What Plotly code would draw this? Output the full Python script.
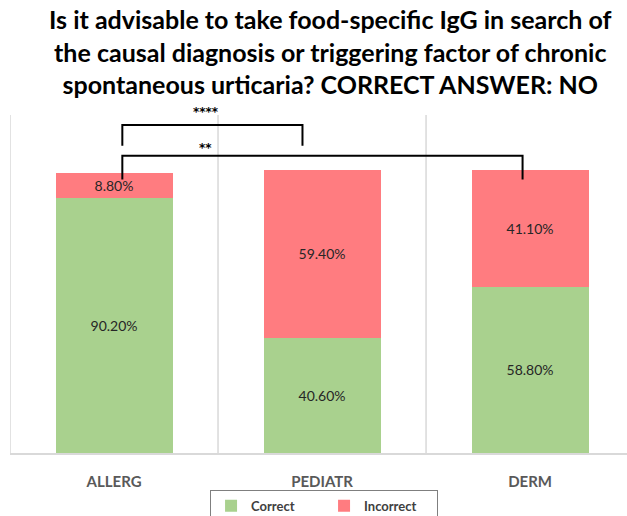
import plotly.graph_objects as go

categories = ["ALLERG", "PEDIATR", "DERM"]
correct = [90.2, 40.6, 58.8]
incorrect = [8.8, 59.4, 41.1]
comparisons = [("ALLERG", "PEDIATR", "****"), ("ALLERG", "DERM", "**")]

title_text = ("Is it advisable to take food-specific IgG in search of<br>"
              "the causal diagnosis or triggering factor of chronic<br>"
              "spontaneous urticaria? CORRECT ANSWER: NO")

xs = list(range(len(categories)))
GREEN = "#a9d18e"
RED = "#ff7c80"
LABEL_FONT = dict(family="Lato, Open Sans, sans-serif", size=14, color="#262626")
YMAX = 119.4

fig = go.Figure()
fig.add_trace(go.Bar(x=xs, y=correct, name="Correct", marker=dict(color=GREEN, line=dict(width=0)),
                     width=0.5625, texttemplate="%{y:.2f}%", textposition="inside",
                     insidetextanchor="middle", textfont=LABEL_FONT, hoverinfo="skip"))
fig.add_trace(go.Bar(x=xs, y=incorrect, name="Incorrect", marker=dict(color=RED, line=dict(width=0)),
                     width=0.5625, texttemplate="%{y:.2f}%", textposition="inside",
                     insidetextanchor="middle", textfont=LABEL_FONT, hoverinfo="skip"))

shapes = []
for b in [i - 0.5 for i in range(len(categories) + 1)]:
    shapes.append(dict(type="line", xref="x", yref="paper", x0=b, x1=b, y0=0, y1=1,
                       line=dict(color="#d9d9d9", width=1.5), layer="below"))

# significance brackets
bracket_levels = [(115.9, 108.5, 120.4), (105.0, 96.6, 107.7)]
for (a, b, stars), (ytop, ybot, ytxt) in zip(comparisons, bracket_levels):
    i0 = categories.index(a) + 0.04
    i1 = categories.index(b) - (0.094 if b == "PEDIATR" else 0.036)
    shapes.append(dict(type="path", xref="x", yref="y",
                       path=f"M {i0},{ybot} L {i0},{ytop} L {i1},{ytop} L {i1},{ybot}",
                       line=dict(color="black", width=2)))
    fig.add_annotation(x=0.44, y=ytxt / YMAX, xref="x", yref="paper", text=f"<b>{stars}</b>",
                       showarrow=False, yanchor="middle",
                       font=dict(family="DejaVu Sans, sans-serif", size=12, color="black"))

fig.add_annotation(text=title_text, xref="paper", yref="paper", x=0.519, y=1.333,
                   xanchor="center", yanchor="top", showarrow=False, align="center",
                   font=dict(family="Lato, sans-serif", size=25, color="black", weight="bold"))

fig.update_layout(
    width=627, height=516,
    barmode="stack",
    plot_bgcolor="white", paper_bgcolor="white",
    margin=dict(l=10, r=0, t=115, b=63, autoexpand=False),
    xaxis=dict(range=[-0.5, 2.466], tickvals=xs, ticktext=categories, showgrid=False, zeroline=False,
               showline=True, linecolor="#d9d9d9", linewidth=1.5, ticks="", ticklabelstandoff=14,
               tickfont=dict(family="Lato, sans-serif", size=15, color="#595959", weight="bold")),
    yaxis=dict(range=[0, YMAX], visible=False, showgrid=False, zeroline=False),
    shapes=shapes,
    showlegend=True,
    legend=dict(orientation="h", x=0.509, xanchor="center", y=-0.109, yanchor="top",
                bordercolor="#7f7f7f", borderwidth=1, traceorder="normal",
                entrywidth=68, entrywidthmode="pixels",
                font=dict(family="Lato, sans-serif", size=13, color="#404040", weight="bold")),
)
fig.write_html("out.html", post_script="document.body.style.margin='0';",
               config={"displayModeBar": False})
